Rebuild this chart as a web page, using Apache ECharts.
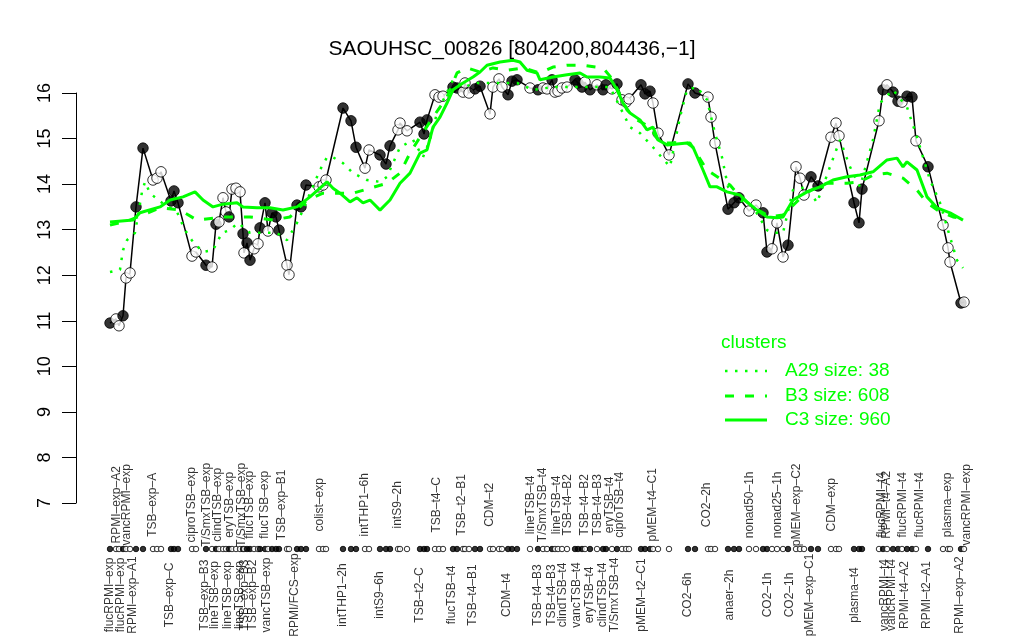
<!DOCTYPE html>
<html>
<head>
<meta charset="utf-8">
<script src="https://cdn.jsdelivr.net/npm/echarts@6/dist/echarts.min.js"></script>
<style>
  html, body { margin: 0; background: #fff; }
  #chart { width: 1024px; height: 640px; }
</style>
</head>
<body>
<div id="chart"></div>
<script>
// sample positions along the track and expression values (log2)
var sampleX = [0, 1.2, 1.8, 2.6, 3.2, 4.0, 5.2, 6.6, 8.6, 9.4,
  10.2, 12.2, 12.8, 13.6, 16.4, 17.2, 19.2, 20.4, 21.2, 21.8,
  22.6, 23.2, 23.8, 24.4, 25.2, 26.0, 26.6, 26.8, 27.4, 28.0,
  28.8, 29.6, 30.0, 31.0, 31.6, 32.4, 33.2, 33.8, 35.4, 35.8,
  37.4, 38.2, 39.2, 41.8, 42.6, 43.2, 46.6, 48.2, 49.2, 51.0,
  51.8, 54.0, 55.2, 56.0, 57.6, 58.0, 59.4, 62.0, 62.8, 63.4,
  65.0, 65.8, 66.6, 68.6, 69.4, 70.6, 71.0, 71.8, 73.0, 74.0,
  76.0, 76.6, 77.8, 78.4, 79.6, 80.4, 81.4, 84.0, 85.6, 86.6,
  87.4, 88.4, 89.0, 89.6, 90.4, 91.4, 93.0, 93.6, 94.4, 95.0,
  96.0, 97.4, 98.6, 99.2, 100.4, 101.4, 102.4, 103.2, 103.8, 106.2,
  107.0, 108.0, 108.6, 109.6, 111.8, 115.6, 117.0, 119.6, 120.2, 121.0,
  123.6, 124.8, 125.8, 127.8, 129.2, 130.6, 131.4, 132.4, 133.4, 134.6,
  135.6, 137.2, 138.0, 138.8, 140.2, 141.6, 144.2, 145.2, 145.8, 148.8,
  149.8, 150.4, 153.8, 154.6, 155.4, 156.6, 157.6, 158.4, 159.4, 160.4,
  161.2, 163.6, 166.6, 167.6, 168.0, 170.2, 170.8];
var sampleY = [10.95, 11.04, 10.89, 11.11, 11.94, 12.05, 13.50, 14.79, 14.09, 14.13,
  14.27, 13.63, 13.85, 13.59, 12.42, 12.51, 12.22, 12.18, 13.12, 13.17,
  13.70, 13.39, 13.28, 13.89, 13.91, 13.83, 12.91, 12.49, 12.71, 12.33,
  12.58, 12.69, 13.04, 13.59, 12.97, 13.37, 13.28, 12.99, 12.22, 12.01,
  13.54, 13.50, 13.98, 13.94, 13.98, 14.09, 15.67, 15.39, 14.81, 14.35,
  14.75, 14.64, 14.44, 14.84, 15.19, 15.34, 15.17, 15.36, 15.10, 15.41,
  15.96, 15.91, 15.93, 16.13, 16.11, 16.02, 16.22, 16.00, 16.09, 16.15,
  15.54, 16.13, 16.31, 16.13, 15.96, 16.26, 16.29, 16.11, 16.07, 16.11,
  16.09, 16.29, 16.02, 16.04, 16.11, 16.13, 16.29, 16.22, 16.13, 16.24,
  16.07, 16.18, 16.07, 16.18, 16.09, 16.20, 15.85, 15.80, 15.87, 16.18,
  15.98, 16.04, 15.78, 15.12, 14.64, 16.20, 16.00, 15.91, 15.47, 14.90,
  13.45, 13.59, 13.70, 13.41, 13.54, 13.37, 12.51, 12.58, 13.15, 12.40,
  12.66, 14.38, 14.13, 13.76, 14.16, 13.96, 15.03, 15.34, 15.06, 13.59,
  13.15, 13.89, 15.39, 16.07, 16.18, 16.02, 15.82, 15.80, 15.93, 15.91,
  14.95, 14.38, 13.10, 12.60, 12.29, 11.39, 11.41];
// 1 = filled (black), 0 = open (white)
var sampleFill = [1, 0, 0, 1, 0, 0, 1, 1, 0, 0,
  0, 1, 1, 1, 0, 0, 1, 0, 1, 0,
  0, 0, 1, 0, 0, 0, 1, 0, 1, 1,
  0, 0, 1, 1, 0, 1, 1, 1, 0, 0,
  1, 1, 1, 0, 0, 0, 1, 1, 1, 0,
  0, 1, 1, 1, 0, 0, 0, 1, 1, 1,
  0, 0, 0, 1, 1, 0, 0, 0, 1, 1,
  0, 0, 0, 0, 1, 1, 1, 0, 1, 0,
  0, 1, 0, 0, 0, 0, 1, 1, 1, 0,
  1, 0, 1, 1, 0, 1, 0, 0, 0, 1,
  1, 1, 0, 0, 0, 1, 1, 0, 0, 0,
  1, 1, 1, 0, 0, 1, 1, 0, 0, 0,
  1, 0, 0, 0, 1, 1, 0, 0, 0, 1,
  1, 1, 0, 1, 0, 1, 1, 0, 1, 1,
  0, 1, 0, 0, 0, 1, 0];

// condition labels, alternating below / above the marker row
var labelX = [0, 1.4, 2.2, 3.4, 4.6, 8.6, 12, 16.4, 19, 19.4,
  21, 21.6, 23.6, 24, 26, 26.4, 27, 28, 28.6, 31,
  31.4, 34.4, 37, 42, 46.6, 51, 54, 57.6, 62, 65.4,
  68.4, 70.4, 72.6, 76, 79.4, 84.2, 85.6, 86.6, 88.4, 89.4,
  90.6, 91.6, 93.4, 95, 96, 97.6, 98.6, 100, 101, 102,
  106.4, 108.6, 115.6, 119.4, 124, 128, 131.6, 133.6, 136, 137.4,
  140, 144.4, 149, 154.4, 155, 155.4, 156.4, 158.6, 159, 162,
  163.4, 167.6, 170, 171.4];
var labelNames = ['flucRPMI\u2013exp', 'RPMI\u2013exp\u2013A2', 'flucRPMI\u2013exp', 'vancRPMI\u2013exp', 'RPMI\u2013exp\u2013A1',
  'TSB\u2013exp\u2013A', 'TSB\u2013exp\u2013C', 'ciproTSB\u2013exp', 'TSB\u2013exp\u2013B3', 'T/SmxTSB\u2013exp',
  'lineTSB\u2013exp', 'clindTSB\u2013exp', 'lineTSB\u2013exp', 'eryTSB\u2013exp', 'lineTSB\u2013exp',
  'T/SmxTSB\u2013exp', 'TSB\u2013exp\u2013B3', 'flucTSB\u2013exp', 'TSB\u2013exp\u2013B2', 'flucTSB\u2013exp',
  'vancTSB\u2013exp', 'TSB\u2013exp\u2013B1', 'RPMI/FCS\u2013exp', 'colist\u2013exp', 'intTHP1\u20132h',
  'intTHP1\u20136h', 'intS9\u20136h', 'intS9\u20132h', 'TSB\u2013t2\u2013C', 'TSB\u2013t4\u2013C',
  'flucTSB\u2013t4', 'TSB\u2013t2\u2013B1', 'TSB\u2013t4\u2013B1', 'CDM\u2013t2', 'CDM\u2013t4',
  'lineTSB\u2013t4', 'TSB\u2013t4\u2013B3', 'T/SmxTSB\u2013t4', 'TSB\u2013t4\u2013B3', 'lineTSB\u2013t4',
  'clindTSB\u2013t4', 'TSB\u2013t4\u2013B2', 'vancTSB\u2013t4', 'TSB\u2013t4\u2013B2', 'eryTSB\u2013t4',
  'TSB\u2013t4\u2013B3', 'clindTSB\u2013t4', 'eryTSB\u2013t4', 'T/SmxTSB\u2013t4', 'ciproTSB\u2013t4',
  'pMEM\u2013t2\u2013C1', 'pMEM\u2013t4\u2013C1', 'CO2\u20136h', 'CO2\u20132h', 'anaer\u20132h',
  'nonad50\u20131h', 'CO2\u20131h', 'nonad25\u20131h', 'CO2\u20131h', 'pMEM\u2013exp\u2013C2',
  'pMEM\u2013exp\u2013C1', 'CDM\u2013exp', 'plasma\u2013t4', 'flucRPMI\u2013t4', 'vancRPMI\u2013t4',
  'RPMI\u2013t4\u2013A2', 'vancRPMI\u2013t4', 'flucRPMI\u2013t4', 'RPMI\u2013t4\u2013A2', 'flucRPMI\u2013t4',
  'RPMI\u2013t2\u2013A1', 'plasma\u2013exp', 'RPMI\u2013exp\u2013A2', 'vancRPMI\u2013exp'];

// cluster mean profiles [position, value]
var clusterA29 = [[0, 12.07], [2, 12.12], [2.6, 12.55], [3.4, 12.77], [5, 12.93], [6.4, 13.83], [7, 14.05], [8, 13.80],
  [10.4, 13.59], [13.4, 13.39], [15, 12.99], [16.6, 12.73], [18.6, 12.51], [20.6, 12.55], [22.4, 12.93], [24, 12.99],
  [25.6, 13.15], [28, 12.93], [30.6, 12.93], [33.4, 12.93], [35.4, 12.77], [37.4, 13.15], [38.6, 13.43], [40, 13.80],
  [42, 14.31], [43.4, 14.59], [44.6, 14.59], [46.6, 14.46], [48.6, 14.24], [51.4, 14.09], [54, 14.05], [55.4, 14.16],
  [58, 14.81], [60.6, 14.97], [62.6, 14.59], [64, 14.97], [65.4, 15.56], [68.6, 16.29], [70.6, 16.13], [73.4, 16.22],
  [76, 16.22], [78.6, 16.22], [81.4, 16.22], [84.6, 16.07], [88.6, 16.13], [92.6, 16.13], [96.6, 16.13], [100, 16.13],
  [102, 15.69], [104, 15.25], [106, 15.12], [108.6, 14.81], [112, 14.38], [114, 15.47], [115.4, 16.07], [117.4, 16.13],
  [119.4, 15.85], [121, 15.12], [122.4, 14.59], [123.6, 13.94], [126, 13.65], [128.6, 13.50], [131.4, 12.99], [132.6, 12.93],
  [134.6, 12.93], [136.6, 13.87], [139.4, 13.94], [141.4, 13.59], [144, 14.38], [146, 14.97], [148, 14.38], [150, 13.94],
  [152.6, 14.97], [154, 15.78], [156.6, 16.07], [159.4, 15.69], [161.4, 15.03], [164, 14.09], [166, 13.59], [168, 12.84],
  [169.4, 12.33], [170.6, 12.16]];
var clusterB3 = [[0, 13.10], [4, 13.21], [10, 13.48], [14, 13.43], [17.4, 13.21], [22.6, 13.28], [28, 13.28], [32.6, 13.21],
  [36, 13.28], [39.4, 13.65], [42.6, 13.80], [48.6, 13.80], [55.4, 14.02], [58, 14.24], [60, 14.68], [62, 15.03],
  [64.6, 15.47], [67.4, 15.91], [69.4, 16.44], [71.4, 16.55], [74, 16.46], [76.6, 16.55], [79.4, 16.50], [82.6, 16.55],
  [86, 16.44], [88.6, 16.57], [91.4, 16.61], [94.6, 16.61], [98.6, 16.55], [100.6, 16.29], [103.4, 15.63], [105.4, 15.41],
  [108, 15.25], [110, 14.90], [116, 14.90], [119.4, 14.31], [124, 13.98], [126, 13.72], [128.6, 13.50], [132, 13.28],
  [134.6, 13.32], [139.4, 13.83], [143.4, 14.02], [147.4, 14.02], [150, 14.05], [152.6, 14.20], [155.4, 14.24], [158.6, 14.13],
  [161.4, 13.87], [163.4, 13.59], [166, 13.39], [168.6, 13.28], [170.6, 13.24]];
var clusterC3 = [[0, 13.17], [4.6, 13.21], [6, 13.37], [10, 13.50], [12, 13.65], [14.6, 13.72], [17, 13.83], [18.6, 13.65],
  [20.6, 13.50], [22.6, 13.56], [25.4, 13.59], [26.6, 13.50], [29.4, 13.48], [32, 13.48], [34.6, 13.43], [37.4, 13.50],
  [40, 13.72], [42, 13.91], [43.4, 14.05], [44.6, 13.91], [46, 13.80], [48, 13.61], [49.4, 13.70], [50.6, 13.59],
  [52, 13.65], [54, 13.43], [56, 13.65], [58, 14.02], [60, 14.24], [62, 14.68], [63.4, 14.75], [64.6, 15.25],
  [66, 15.47], [67.4, 15.78], [68.6, 16.07], [70.6, 16.22], [72.6, 16.35], [74, 16.46], [75.4, 16.61], [78, 16.68],
  [80.6, 16.72], [82, 16.68], [83.4, 16.50], [85.4, 16.44], [86, 16.29], [88.6, 16.35], [91.4, 16.40], [94, 16.44],
  [95.4, 16.35], [98, 16.35], [100, 16.33], [101.4, 16.07], [102.6, 15.78], [104, 15.56], [106, 15.41], [107.4, 15.19],
  [108.6, 15.25], [109.6, 14.97], [111.4, 14.86], [115.4, 14.90], [116.6, 14.81], [118.6, 14.31], [120, 13.94], [121.4, 13.94],
  [123.4, 13.83], [126, 13.76], [127.4, 13.61], [129.4, 13.43], [131.4, 13.28], [133.4, 13.26], [134.6, 13.28], [136.6, 13.65],
  [139.4, 13.83], [142, 13.94], [144.6, 14.09], [147.4, 14.16], [150, 14.20], [152.6, 14.27], [155.4, 14.53], [157.4, 14.57],
  [158.6, 14.38], [159.4, 14.49], [161.4, 14.31], [163.4, 13.72], [165.4, 13.48], [168, 13.37], [170.6, 13.21]];

var legendNames = ['A29 size: 38', 'B3 size: 608', 'C3 size: 960'];

var FONT = '"Liberation Sans", Arial, Helvetica, sans-serif';
var GREEN = '#00ff00';
var ROW_Y = 5.99;      // marker row under the plot
var TOP_LABEL_Y = 6.96;
var BOTTOM_LABEL_Y = 4.98;

var pts = [], row = [], lineData = [];
sampleX.forEach(function (x, i) {
  var c = sampleFill[i] ? '#000' : '#fff';
  lineData.push([x, sampleY[i]]);
  pts.push({ value: [x, sampleY[i]], itemStyle: { color: c } });
  row.push({ value: [x, ROW_Y], itemStyle: { color: c } });
});
var labelData = labelX.map(function (x, i) {
  return { name: labelNames[i], value: [x, i % 2 === 0 ? BOTTOM_LABEL_Y : TOP_LABEL_Y] };
});

var chart = echarts.init(document.getElementById('chart'));
var option = {
  animation: false,
  backgroundColor: '#fff',
  textStyle: { fontFamily: FONT },
  title: {
    text: 'SAOUHSC_00826 [804200,804436,\u22121]',
    left: 'center',
    top: 34,
    textStyle: { fontFamily: FONT, fontSize: 21, fontWeight: 'normal', color: '#000' }
  },
  grid: { left: 76, right: 25, top: 93, bottom: 137 },
  xAxis: { type: 'value', min: -6.8, max: 177.8, show: false },
  yAxis: {
    type: 'value', min: 7, max: 16, interval: 1,
    axisLine: { show: true, onZero: false, lineStyle: { color: '#000', width: 1 } },
    axisTick: { show: true, length: 14, lineStyle: { color: '#000', width: 1 } },
    axisLabel: { rotate: 90, margin: 22, fontSize: 18, color: '#000', fontFamily: FONT },
    splitLine: { show: false }
  },
  series: [
    {
      type: 'line', data: lineData, symbol: 'none', clip: false, z: 2,
      lineStyle: { color: '#000', width: 1.5 }
    },
    {
      type: 'scatter', data: pts, symbol: 'circle', symbolSize: 10.5, clip: false, z: 3,
      itemStyle: { borderColor: '#000', borderWidth: 1 }
    },
    {
      type: 'line', name: 'A29', data: clusterA29, symbol: 'none', clip: false, z: 4,
      lineStyle: { color: GREEN, width: 2.5, type: [2.5, 7.5] }
    },
    {
      type: 'line', name: 'B3', data: clusterB3, symbol: 'none', clip: false, z: 4,
      lineStyle: { color: GREEN, width: 3, type: [9, 11] }
    },
    {
      type: 'line', name: 'C3', data: clusterC3, symbol: 'none', clip: false, z: 4,
      lineStyle: { color: GREEN, width: 3 }
    },
    {
      type: 'scatter', data: row, symbol: 'circle', symbolSize: 5.5, clip: false, z: 3,
      itemStyle: { borderColor: '#000', borderWidth: 1 }
    },
    {
      type: 'scatter', data: labelData, symbolSize: 1, clip: false, z: 5,
      itemStyle: { color: 'rgba(0,0,0,0)' },
      label: {
        show: true, position: 'inside', rotate: 90, formatter: '{b}',
        fontSize: 12, color: '#000', fontFamily: FONT
      }
    }
  ],
  graphic: [
    { type: 'text', left: 721, top: 333, style: { text: 'clusters', fill: GREEN, font: '19px ' + FONT } },
    { type: 'line', shape: { x1: 725, y1: 371, x2: 767, y2: 371 }, style: { stroke: GREEN, lineWidth: 2.5, lineDash: [2.5, 7.5] } },
    { type: 'line', shape: { x1: 725, y1: 396, x2: 767, y2: 396 }, style: { stroke: GREEN, lineWidth: 3, lineDash: [9, 11] } },
    { type: 'line', shape: { x1: 725, y1: 420, x2: 767, y2: 420 }, style: { stroke: GREEN, lineWidth: 3 } },
    { type: 'text', left: 785, top: 361, style: { text: legendNames[0], fill: GREEN, font: '19px ' + FONT } },
    { type: 'text', left: 785, top: 386, style: { text: legendNames[1], fill: GREEN, font: '19px ' + FONT } },
    { type: 'text', left: 785, top: 410, style: { text: legendNames[2], fill: GREEN, font: '19px ' + FONT } }
  ]
};
chart.setOption(option);
window.addEventListener('resize', function () { chart.resize(); });
</script>
</body>
</html>
